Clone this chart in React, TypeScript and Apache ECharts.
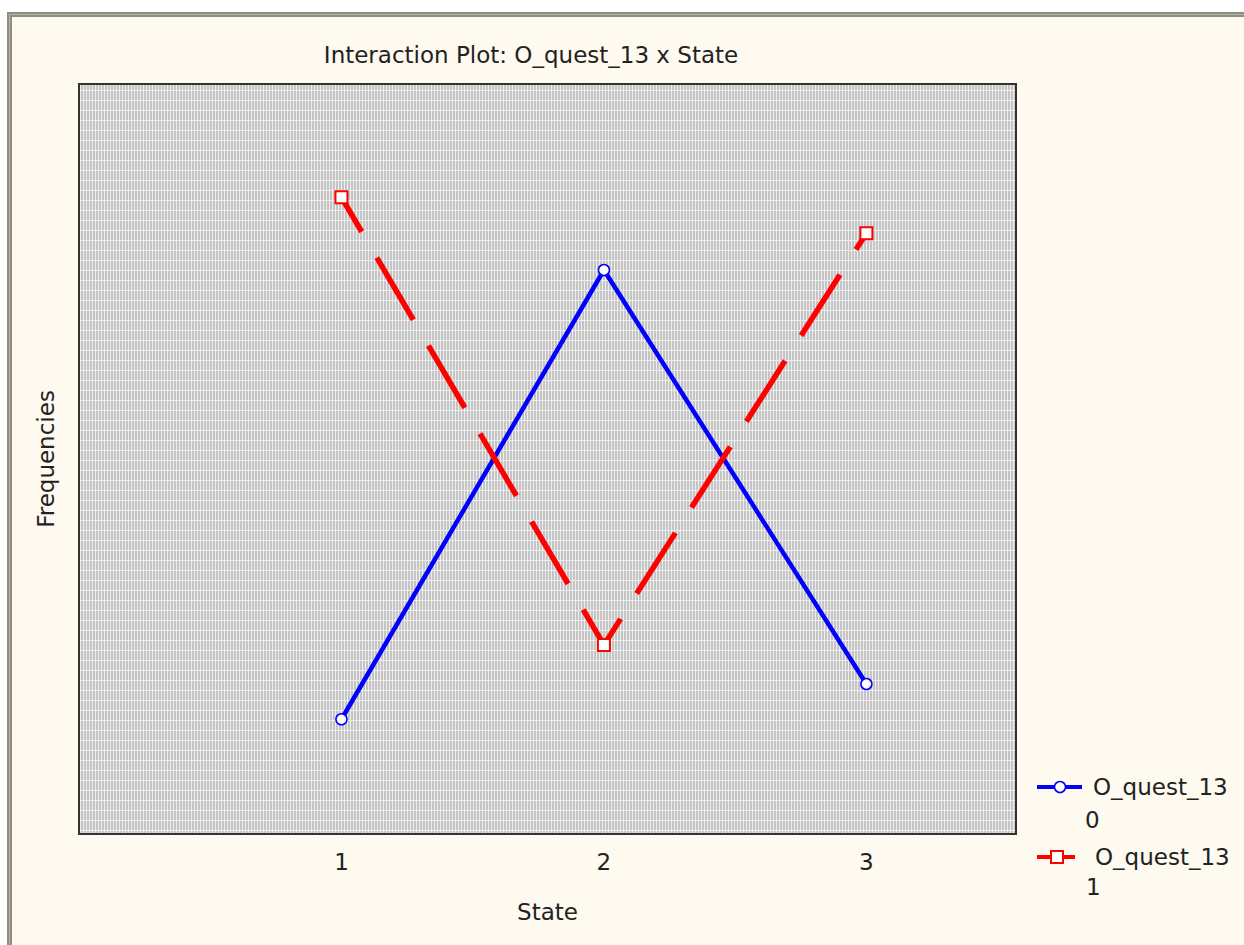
import React, { useEffect, useRef } from "react";
import * as echarts from "echarts";

const states = [1, 2, 3];
const quest0 = [15.3, 75.2, 20.0];
const quest1 = [84.9, 25.2, 80.1];
const tickLabels = ["1", "2", "3"];
const seriesNames = ["O_quest_13 0", "O_quest_13 1"];

function makePattern(): string {
  const c = document.createElement("canvas");
  c.width = 3;
  c.height = 10;
  const ctx = c.getContext("2d")!;
  ctx.fillStyle = "#ededed";
  ctx.fillRect(0, 0, 3, 10);
  ctx.fillStyle = "#c4c4c4";
  ctx.fillRect(0, 1, 2, 9);
  return c.toDataURL();
}

export default function App() {
  const ref = useRef<HTMLDivElement>(null);
  useEffect(() => {
    if (!ref.current) return;
    const chart = echarts.init(ref.current, null, { renderer: "svg" });
    const font = "DejaVu Sans";
    const txt = "#222";
    const pattern = makePattern();
    const option: any = {
      animation: false,
      backgroundColor: "#fefaef",
      title: {
        text: "Interaction Plot: O_quest_13 x State",
        left: 526,
        top: 38,
        textAlign: "center",
        textStyle: { fontFamily: font, fontSize: 23, fontWeight: "normal", color: txt },
      },
      grid: {
        left: 79,
        top: 84,
        width: 937,
        height: 750,
        show: true,
        borderColor: "#333",
        borderWidth: 2,
        backgroundColor: { image: pattern, repeat: "repeat" },
      },
      xAxis: {
        type: "value",
        min: 0,
        max: 3.57,
        interval: 1,
        name: "State",
        nameLocation: "middle",
        nameGap: 66,
        nameTextStyle: { fontFamily: font, fontSize: 23, color: txt },
        axisLine: { show: false },
        axisTick: { show: false },
        splitLine: { show: false },
        axisLabel: {
          margin: 16,
          fontFamily: font,
          fontSize: 23,
          color: txt,
          showMinLabel: false,
          showMaxLabel: false,
          formatter: (v: number) => {
            const i = states.indexOf(v);
            return i >= 0 ? tickLabels[i] : "";
          },
        },
      },
      yAxis: {
        type: "value",
        min: 0,
        max: 100,
        name: "Frequencies",
        nameLocation: "middle",
        nameGap: 22,
        nameTextStyle: { fontFamily: font, fontSize: 23, color: txt },
        axisLine: { show: false },
        axisTick: { show: false },
        axisLabel: { show: false },
        splitLine: { show: false },
      },
      series: [
        {
          name: seriesNames[0],
          type: "line",
          data: states.map((s, i) => [s, quest0[i]]),
          symbol: "circle",
          symbolSize: 11,
          lineStyle: { color: "#0000ff", width: 4.5 },
          itemStyle: { color: "#ffffff", borderColor: "#0000ff", borderWidth: 1.5 },
          z: 3,
        },
        {
          name: seriesNames[1],
          type: "line",
          data: states.map((s, i) => [s, quest1[i]]),
          symbol: "rect",
          symbolSize: 12,
          lineStyle: { color: "#ff0000", width: 5.5, type: [72, 30], dashOffset: 32 },
          itemStyle: { color: "#ffffff", borderColor: "#ff0000", borderWidth: 2 },
          z: 4,
        },
      ],
      graphic: [
        { type: "rect", z: -10, silent: true, shape: { x: 0, y: 0, width: 1244, height: 12 }, style: { fill: "#ffffff" } },
        { type: "rect", z: -10, silent: true, shape: { x: 0, y: 0, width: 7, height: 945 }, style: { fill: "#ffffff" } },
        { type: "rect", z: -9, silent: true, shape: { x: 7, y: 12, width: 1237, height: 5 }, style: { fill: "#8e8e80" } },
        { type: "rect", z: -9, silent: true, shape: { x: 7, y: 12, width: 5, height: 933 }, style: { fill: "#8e8e80" } },
        { type: "rect", z: -9, silent: true, shape: { x: 9, y: 14, width: 1235, height: 1 }, style: { fill: "#b4b4a6" } },
        { type: "rect", z: -9, silent: true, shape: { x: 9, y: 14, width: 1, height: 931 }, style: { fill: "#b4b4a6" } },
        // legend item 1
        { type: "line", shape: { x1: 1037, y1: 787, x2: 1082, y2: 787 }, style: { stroke: "#0000ff", lineWidth: 4 } },
        { type: "circle", shape: { cx: 1060, cy: 787, r: 5.5 }, style: { fill: "#ffffff", stroke: "#0000ff", lineWidth: 1.5 } },
        { type: "text", x: 1093, y: 787, style: { text: "O_quest_13", fontFamily: font, fontSize: 23, fill: txt, verticalAlign: "middle" } },
        { type: "text", x: 1085, y: 820, style: { text: "0", fontFamily: font, fontSize: 23, fill: txt, verticalAlign: "middle" } },
        // legend item 2
        { type: "line", shape: { x1: 1037, y1: 857, x2: 1075, y2: 857 }, style: { stroke: "#ff0000", lineWidth: 4 } },
        { type: "rect", shape: { x: 1051, y: 851, width: 12, height: 12 }, style: { fill: "#ffffff", stroke: "#ff0000", lineWidth: 2 } },
        { type: "text", x: 1095, y: 857, style: { text: "O_quest_13", fontFamily: font, fontSize: 23, fill: txt, verticalAlign: "middle" } },
        { type: "text", x: 1086, y: 887, style: { text: "1", fontFamily: font, fontSize: 23, fill: txt, verticalAlign: "middle" } },
      ],
    };
    chart.setOption(option);
    return () => chart.dispose();
  }, []);
  return (
    <div
      ref={ref}
      style={{ position: "absolute", left: 0, top: 0, width: 1244, height: 945 }}
    />
  );
}
